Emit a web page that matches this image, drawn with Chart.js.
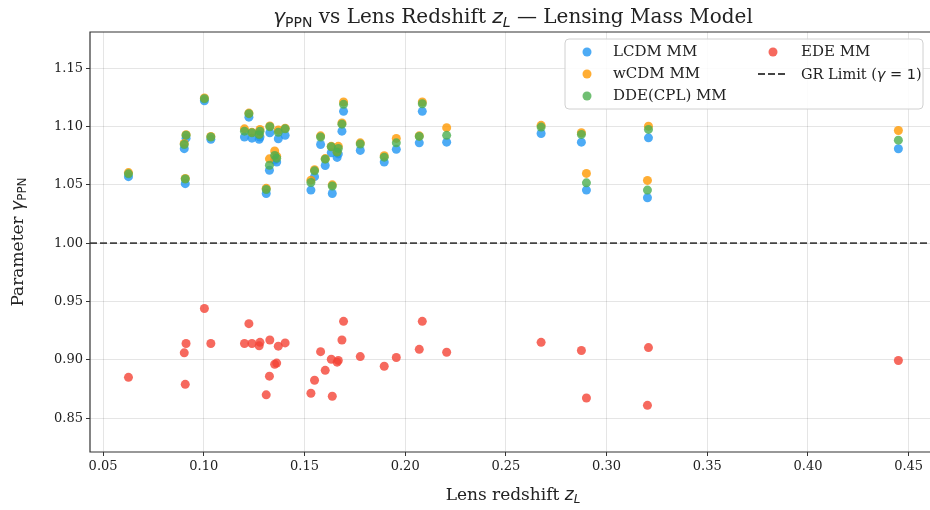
<!DOCTYPE html>
<html lang="en">
<head>
  <meta charset="UTF-8">
  <title>gamma PPN vs Lens Redshift</title>
  <script src="https://cdn.jsdelivr.net/npm/chart.js"></script>
  <style>
    html, body { margin: 0; padding: 0; background: #fff; overflow: hidden; }
  </style>
</head>
<body>
  <canvas id="grafico" width="930" height="510"></canvas>

  <script>
    // Lens redshifts (one entry per lens)
    const lensZ = [0.0626, 0.0903, 0.0908, 0.0912, 0.1003, 0.1035, 0.1202, 0.1224, 0.1239, 0.1275,
                   0.1279, 0.1310, 0.1326, 0.1328, 0.1352, 0.1362, 0.1370, 0.1404, 0.1532, 0.1550,
                   0.1580, 0.1603, 0.1633, 0.1638, 0.1662, 0.1668, 0.1686, 0.1694, 0.1777, 0.1896,
                   0.1956, 0.2070, 0.2085, 0.2206, 0.2675, 0.2875, 0.2900, 0.3203, 0.3208, 0.4449];

    // gamma_PPN per mass model
    const lcdm = [1.057, 1.081, 1.051, 1.090, 1.122, 1.089, 1.091, 1.108, 1.090, 1.089,
                  1.091, 1.0426, 1.0625, 1.0946, 1.0712, 1.0695, 1.0895, 1.0924, 1.0455, 1.057,
                  1.0846, 1.0666, 1.0775, 1.0426, 1.0735, 1.0765, 1.096, 1.113, 1.0795, 1.0695,
                  1.0804, 1.086, 1.113, 1.0866, 1.094, 1.0866, 1.0455, 1.0389, 1.0903, 1.0809];
    const wcdm = [1.0605, 1.0855, 1.0555, 1.093, 1.1245, 1.0915, 1.098, 1.1115, 1.095, 1.094,
                  1.0975, 1.047, 1.0723, 1.1005, 1.079, 1.0745, 1.097, 1.0985, 1.054, 1.063,
                  1.092, 1.0725, 1.083, 1.050, 1.0785, 1.083, 1.103, 1.121, 1.086, 1.075,
                  1.0898, 1.092, 1.121, 1.099, 1.101, 1.0946, 1.0598, 1.0538, 1.1003, 1.0966];
    const dde  = [1.0594, 1.0846, 1.055, 1.0926, 1.1238, 1.091, 1.096, 1.111, 1.0946, 1.093,
                  1.096, 1.046, 1.0668, 1.0998, 1.0752, 1.0728, 1.095, 1.098, 1.052, 1.062,
                  1.091, 1.072, 1.0826, 1.049, 1.078, 1.0812, 1.102, 1.119, 1.085, 1.0737,
                  1.086, 1.0915, 1.1195, 1.0924, 1.0995, 1.0932, 1.0517, 1.0455, 1.0975, 1.0883];
    const ede  = [0.885, 0.906, 0.879, 0.914, 0.944, 0.914, 0.914, 0.931, 0.914, 0.912,
                  0.915, 0.870, 0.886, 0.917, 0.8962, 0.8972, 0.9117, 0.9145, 0.8714, 0.8825,
                  0.907, 0.891, 0.9005, 0.8688, 0.898, 0.8995, 0.917, 0.933, 0.9028, 0.8945,
                  0.902, 0.909, 0.933, 0.9065, 0.915, 0.908, 0.8673, 0.861, 0.9105, 0.8994];

    const grLimit = 1.0;

    // Tick labels
    const xTicks = [0.05, 0.10, 0.15, 0.20, 0.25, 0.30, 0.35, 0.40, 0.45];
    const yTicks = [0.85, 0.90, 0.95, 1.00, 1.05, 1.10, 1.15];
    // the axes run a little past the right edge of the picture
    const xMin = 0.0435, xMax = 0.4606;
    const yMin = 0.821, yMax = 1.181;

    const SERIF = '"DejaVu Serif", serif';
    const SANS = '"DejaVu Sans", sans-serif';

    function pontos(valores) {
      return lensZ.map((z, i) => ({ x: z, y: valores[i] }));
    }

    // draws text made of parts (for subscripts / math italic)
    function richText(ctx, parts, x, y, align) {
      let w = 0;
      parts.forEach(p => { ctx.font = p.font; p.w = ctx.measureText(p.t).width; w += p.w; });
      let cx = align === 'center' ? x - w / 2 : x;
      ctx.textAlign = 'left';
      ctx.textBaseline = 'alphabetic';
      parts.forEach(p => { ctx.font = p.font; ctx.fillText(p.t, cx, y + (p.dy || 0)); cx += p.w; });
    }

    const labelsPlugin = {
      id: 'labels',
      afterDraw(chart) {
        const ctx = chart.ctx;
        const a = chart.chartArea;
        ctx.save();
        // frame (right spine is outside the picture)
        ctx.strokeStyle = '#333';
        ctx.lineWidth = 1.2;
        ctx.beginPath();
        ctx.moveTo(a.right + 2, a.top);
        ctx.lineTo(a.left, a.top);
        ctx.lineTo(a.left, a.bottom);
        ctx.lineTo(a.right + 2, a.bottom);
        ctx.stroke();

        ctx.fillStyle = '#222';
        const cx = 513;
        // title
        richText(ctx, [
          { t: 'γ', font: 'italic 20px ' + SANS },
          { t: 'PPN', font: '14px ' + SANS, dy: 4 },
          { t: ' vs Lens Redshift ', font: '20px ' + SERIF },
          { t: 'z', font: 'italic 20px ' + SANS },
          { t: 'L', font: 'italic 14px ' + SANS, dy: 4 },
          { t: ' — Lensing Mass Model', font: '20px ' + SERIF }
        ], cx, 23, 'center');

        // x label
        richText(ctx, [
          { t: 'Lens redshift ', font: '17px ' + SERIF },
          { t: 'z', font: 'italic 17px ' + SANS },
          { t: 'L', font: 'italic 12px ' + SANS, dy: 3 }
        ], cx, 500, 'center');

        // y label
        ctx.save();
        ctx.translate(23, (a.top + a.bottom) / 2);
        ctx.rotate(-Math.PI / 2);
        richText(ctx, [
          { t: 'Parameter ', font: '17px ' + SERIF },
          { t: 'γ', font: 'italic 17px ' + SANS },
          { t: 'PPN', font: '12px ' + SANS, dy: 3 }
        ], 0, 0, 'center');
        ctx.restore();

        // legend
        const bx = 565, by = 39, bw = 358, bh = 70;
        ctx.beginPath();
        ctx.roundRect(bx, by, bw, bh, 4);
        ctx.fillStyle = 'rgba(255,255,255,0.85)';
        ctx.fill();
        ctx.strokeStyle = '#d0d0d0';
        ctx.lineWidth = 1;
        ctx.stroke();

        const ds = chart.data.datasets;
        ds.forEach((d, i) => {
          const col = i < 3 ? 0 : 1;
          const row = i < 3 ? i : i - 3;
          const mx = col === 0 ? 587 : 773;
          const tx = col === 0 ? 613 : 801;
          const my = 52 + row * 22;
          if (d.type === 'line') {
            ctx.strokeStyle = d.borderColor;
            ctx.lineWidth = 1.8;
            ctx.setLineDash([7, 3]);
            ctx.beginPath();
            ctx.moveTo(758, my);
            ctx.lineTo(788, my);
            ctx.stroke();
            ctx.setLineDash([]);
            ctx.fillStyle = '#222';
            richText(ctx, [
              { t: 'GR Limit (', font: '14.5px ' + SERIF },
              { t: 'γ', font: 'italic 14.5px ' + SANS },
              { t: ' = 1', font: '14.5px ' + SANS },
              { t: ')', font: '14.5px ' + SERIF }
            ], tx, my + 5, 'left');
          } else {
            ctx.fillStyle = d.backgroundColor;
            ctx.beginPath();
            ctx.arc(mx, my, 4.5, 0, Math.PI * 2);
            ctx.fill();
            ctx.fillStyle = '#222';
            ctx.font = '15px ' + SERIF;
            ctx.textAlign = 'left';
            ctx.textBaseline = 'middle';
            ctx.fillText(d.label, tx, my);
          }
        });
        ctx.restore();
      }
    };

    const ctx = document.getElementById('grafico').getContext('2d');
    new Chart(ctx, {
      type: 'scatter',
      data: {
        datasets: [
          { label: 'LCDM MM', data: pontos(lcdm), backgroundColor: 'rgba(33,150,243,0.8)', order: 5 },
          { label: 'wCDM MM', data: pontos(wcdm), backgroundColor: 'rgba(255,152,0,0.8)', order: 4 },
          { label: 'DDE(CPL) MM', data: pontos(dde), backgroundColor: 'rgba(76,175,80,0.8)', order: 3 },
          { label: 'EDE MM', data: pontos(ede), backgroundColor: 'rgba(244,67,54,0.8)', order: 2 },
          {
            type: 'line', label: 'GR Limit (γ = 1)',
            data: [{ x: xMin, y: grLimit }, { x: xMax, y: grLimit }],
            borderColor: '#444', borderWidth: 1.8, borderDash: [7, 3],
            pointRadius: 0, fill: false, order: 1
          }
        ]
      },
      options: {
        responsive: false,
        animation: false,
        devicePixelRatio: 1,
        layout: { autoPadding: false, padding: { top: 32, right: 0, left: 0, bottom: 0 } },
        elements: { point: { radius: 4.5, borderWidth: 0, hoverRadius: 4.5 } },
        plugins: { legend: { display: false }, title: { display: false }, tooltip: { enabled: false } },
        scales: {
          x: {
            type: 'linear', min: xMin, max: xMax,
            afterBuildTicks: s => { s.ticks = xTicks.map(v => ({ value: v })); },
            afterFit: s => { s.height = 58; s.paddingLeft = 0; s.paddingRight = 0; },
            ticks: { callback: v => v.toFixed(2), color: '#222', font: { family: SERIF, size: 13 }, padding: 3, maxRotation: 0 },
            grid: { color: 'rgba(0,0,0,0.1)', tickColor: '#333', tickLength: 4 },
            border: { display: false }
          },
          y: {
            min: yMin, max: yMax,
            afterBuildTicks: s => { s.ticks = yTicks.map(v => ({ value: v })); },
            afterFit: s => { s.width = 90; s.paddingTop = 0; s.paddingBottom = 0; },
            ticks: { callback: v => v.toFixed(2), color: '#222', font: { family: SERIF, size: 13 }, padding: 3 },
            grid: { color: 'rgba(0,0,0,0.1)', tickColor: '#333', tickLength: 4 },
            border: { display: false }
          }
        }
      },
      plugins: [labelsPlugin]
    });
  </script>
</body>
</html>
